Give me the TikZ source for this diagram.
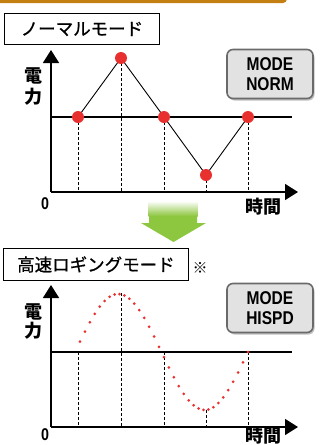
\documentclass[tikz,border=0pt]{standalone}
\usepackage{fontspec}
\usepackage{tikz}
\usetikzlibrary{arrows.meta,shadows}
\newfontfamily\jpfont{Noto Sans CJK JP}
\newfontfamily\jptitlefont[FakeBold=0.8]{Noto Sans CJK JP}
\newfontfamily\modefont[FakeStretch=0.84]{Liberation Sans}
\definecolor{barorange}{HTML}{C47F12}
\definecolor{dotred}{HTML}{E8312F}
\definecolor{arrowgreen}{HTML}{8DC63F}
\definecolor{buttongray}{HTML}{E2E2E2}
\definecolor{buttonedge}{HTML}{6A6A6A}

\begin{document}
\begin{tikzpicture}[x=1pt,y=-1pt]
    \tikzstyle{every node} = [inner sep=0pt]
    \tikzstyle{titlebox} = [draw, fill=white, line width=0.9pt, anchor=north west, font=\jptitlefont\fontsize{17.5}{17.5}\selectfont]
    \tikzstyle{modebutton} = [draw=buttonedge, fill=buttongray, line width=1.6pt, rounded corners=6pt, minimum width=86pt, minimum height=49pt, align=center, font=\modefont\bfseries\fontsize{18.5}{20}\selectfont, drop shadow={shadow xshift=1.5pt, shadow yshift=-2pt, opacity=0.5}]
    \tikzstyle{axisarrow} = [line width=1.6pt, -{Triangle[length=13pt,width=16pt]}]
    \tikzstyle{levelline} = [line width=1.5pt]
    \tikzstyle{guide} = [line width=0.8pt, dash pattern=on 3pt off 2pt]
    \tikzstyle{dotpoint} = [circle, fill=dotred, minimum size=12pt]
    \tikzstyle{axislabel} = [font=\jpfont\bfseries\fontsize{18}{18}\selectfont]
    \tikzstyle{zerolabel} = [font=\modefont\bfseries\fontsize{17}{17}\selectfont]
    \useasboundingbox (0,0) rectangle (320,445);

    % header bar
    \fill[barorange, rounded corners=4pt] (-10,-10) rectangle (287,3);

    % place nodes: normal mode
    \node[titlebox, minimum width=155pt, minimum height=31pt] (normalTitle) at (4,13) {ノーマルモード};
    \node[modebutton] (normButton) at (270,74) {MODE\\NORM};
    \node[axislabel] (powerA1) at (33,76) {電};
    \node[axislabel] (powerB1) at (33,97) {力};
    \node[zerolabel] (zero1) at (45,204) {0};
    \node[axislabel] (time1) at (263,207) {時間};
    \coordinate (o1) at (51,192);
    \coordinate (yTip1) at (51,50);
    \coordinate (xTip1) at (298,192);
    \coordinate (levelEnd1) at (292,117);
    \coordinate (c1) at (78,117);
    \coordinate (c2) at (121,58);
    \coordinate (c3) at (164,117);
    \coordinate (c4) at (206,175);
    \coordinate (c5) at (248,117);

    % Connections
    \draw[axisarrow] (o1)--(yTip1);
    \draw[axisarrow] (o1)--(xTip1);
    \draw[levelline] (o1 |- c1)--(levelEnd1);
    \foreach \c in {c1,c2,c3,c4,c5}
        \draw[guide] (\c)--(\c |- o1);
    \draw[line width=0.9pt] (c1)--(c2)--(c3)--(c4)--(c5);
    \foreach \c in {c1,c2,c3,c4,c5}
        \node[dotpoint] (dot-\c) at (\c) {};

    % green arrow
    \fill[arrowgreen] (149,202)--(197,202)--(197,223)--(206,223)--(173.5,242)--(141,223)--(149,223)--cycle;
    \shade[top color=white, bottom color=arrowgreen] (148.5,201) rectangle (197.5,216);

    % place nodes: high speed logging mode
    \node[titlebox, minimum width=185pt, minimum height=32pt] (hispdTitle) at (3,248) {高速ロギングモード};
    \node[font=\jpfont\fontsize{15}{15}\selectfont] (note) at (200,268) {※};
    \node[modebutton] (hispdButton) at (270,308) {MODE\\HISPD};
    \node[axislabel] (powerA2) at (33,312) {電};
    \node[axislabel] (powerB2) at (33,331) {力};
    \node[zerolabel] (zero2) at (45,435) {0};
    \node[axislabel] (time2) at (263,436) {時間};
    \coordinate (o2) at (51,427);
    \coordinate (yTip2) at (51,285);
    \coordinate (xTip2) at (298,427);
    \coordinate (levelEnd2) at (292,352);
    \coordinate (s1) at (78,352);
    \coordinate (s2) at (121,293);
    \coordinate (s3) at (164,352);
    \coordinate (s4) at (206,410);
    \coordinate (s5) at (248,352);

    % Connections
    \draw[axisarrow] (o2)--(yTip2);
    \draw[axisarrow] (o2)--(xTip2);
    \draw[levelline] (o2 |- s1)--(levelEnd2);
    \foreach \s in {s1,s2,s3,s4,s5}
        \draw[guide] (\s)--(\s |- o2);
    % sampled curve
    \foreach \k in {1,...,35}{
        \pgfmathsetmacro\yy{352-58*sin(\k/35*360)}
        \fill[dotred] ({75+\k*4.943},\yy) circle (1.5pt);
    }
\end{tikzpicture}
\end{document}
